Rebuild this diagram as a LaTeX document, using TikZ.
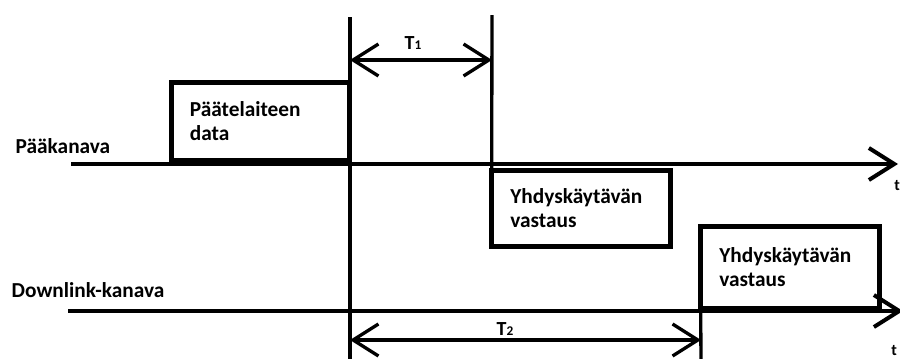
\documentclass[tikz,border=0pt]{standalone}
\usepackage{fontspec}
\setmainfont{Carlito}
\usetikzlibrary{arrows.meta}

\begin{document}
\begin{tikzpicture}[
    x=0.75pt, y=-0.75pt,
    font=\bfseries\fontsize{16}{17.5}\selectfont,
    barb/.tip={Straight Barb[length=19pt,width=24pt]},
    akseli/.style={line width=3pt, -barb},
    viiva/.style={line width=2.5pt},
    mitta/.style={line width=2.5pt, barb-barb},
    viesti/.style={
        draw,
        line width=3.75pt,
        outer sep=0pt,
        minimum width=133.5pt,
        text width=106pt,
        inner xsep=14pt,
        align=left
    }
]
    \useasboundingbox (0,0) rectangle (900,358);
    \clip (0,0) rectangle (900,358);

    % time axes
    \coordinate (paa0) at (71,164);
    \coordinate (paa1) at (898,164);
    \coordinate (dl0) at (68,311);
    \coordinate (dl1) at (903,311);
    \draw[akseli] (paa0) -- (paa1);
    \draw[akseli] (dl0) -- (dl1);
    \node[anchor=base west] (paalabel) at (11,153) {Pääkanava};
    \node[anchor=base west] (dllabel) at (7,297) {Downlink-kanava};
    \node[anchor=base west, inner sep=0pt, font=\bfseries\fontsize{12}{14}\selectfont] (tpaa) at (894,190) {t};
    \node[anchor=base west, inner sep=0pt, font=\bfseries\fontsize{12}{14}\selectfont] (tdl) at (891,355) {t};

    % messages
    \node[viesti, minimum height=58.5pt] (data) at (260.5,121) {Päätelaiteen\\data};
    \node[viesti, minimum height=57pt] (vastaus1) at (581,208) {Yhdyskäytävän\\vastaus};
    \node[viesti, minimum height=61.5pt] (vastaus2) at (790,267) {Yhdyskäytävän\\vastaus};

    % time markers
    \coordinate (v1top) at (350,17);
    \coordinate (v1bot) at (350,360);
    \coordinate (v2top) at (492,15);
    \coordinate (v3bot) at (701,360);
    \draw[viiva] (v1top) -- (v1bot);
    \draw[viiva] (v2top) -- (vastaus1.north west);
    \draw[viiva] (vastaus2.south west) -- (v3bot);

    % intervals
    \coordinate (T1a) at (350,60);
    \coordinate (T1b) at (492,60);
    \coordinate (T2a) at (350,340);
    \coordinate (T2b) at (701,340);
    \draw[mitta] (T1a) -- (T1b);
    \draw[mitta] (T2a) -- (T2b);
    \node[anchor=base, font=\bfseries\fontsize{15}{17}\selectfont] (T1) at (413,49) {T{\fontsize{10}{12}\selectfont 1}};
    \node[anchor=base, font=\bfseries\fontsize{15}{17}\selectfont] (T2) at (505,335) {T{\fontsize{10}{12}\selectfont 2}};
\end{tikzpicture}
\end{document}
